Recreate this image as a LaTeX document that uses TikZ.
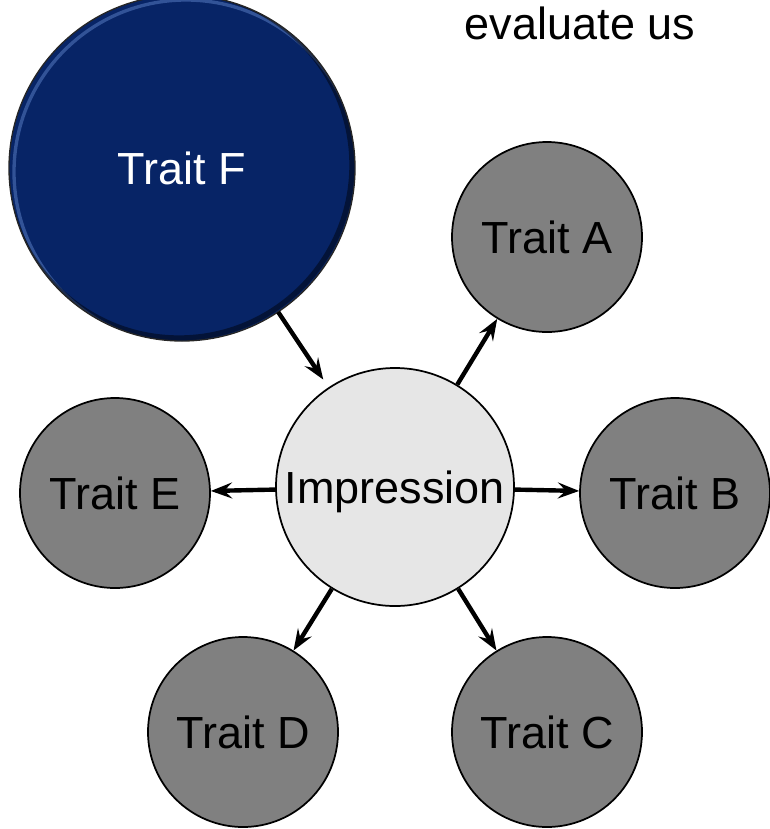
\documentclass[tikz,border=0pt]{standalone}
\usepackage{fontspec}
\setmainfont{Liberation Sans}
\usetikzlibrary{arrows.meta}
\definecolor{navy}{RGB}{7,36,102}
\definecolor{navylight}{RGB}{80,115,185}
\definecolor{traitgray}{RGB}{128,128,128}
\definecolor{impgray}{RGB}{230,230,230}
\begin{document}
\begin{tikzpicture}[x=0.75pt,y=-0.75pt,
  lbl/.style={font=\fontsize{33.75pt}{40pt}\selectfont, text height=24.2pt, text depth=0pt, inner sep=0pt},
  trait/.style={circle, draw=black, line width=1.3pt, fill=traitgray, minimum size=142.5pt, lbl},
  hub/.style={circle, draw=black, line width=1.3pt, fill=impgray, minimum size=178.5pt, lbl},
  key/.style={circle, fill=navy, minimum size=259.5pt, lbl, text=white},
  link/.style={line width=3.3pt, -{Stealth[length=16pt,width=12pt,inset=6pt]}}]
\useasboundingbox (0,0) rectangle (770,829);

% heading
\node[lbl, anchor=base] (head) at (580,39) {evaluate us};

% highlighted trait with bevelled rim
\node[key] (F) at (182,168) {};
\begin{scope}
  \clip (F.center) circle (129.75pt);
  \draw[navylight, line width=2.5pt, opacity=0.6] ([shift={(4,4)}]F.center) circle (129pt);
  \draw[black, line width=4pt, opacity=0.45] ([shift={(-3,-3)}]F.center) circle (129.75pt);
\end{scope}
\draw[black!85, line width=1pt] (F.center) circle (129.75pt);
\node[lbl, text=white] (Ftext) at (F.center) {Trait F};

% central impression and surrounding traits
\node[hub] (imp) at (395,487) {Impression};
\node[trait] (A) at (547,237) {Trait A};
\node[trait] (B) at (675,493) {Trait B};
\node[trait] (C) at (547,732) {Trait C};
\node[trait] (D) at (243,732) {Trait D};
\node[trait] (E) at (115,493) {Trait E};

% connectors
\draw[link, shorten >=7pt] (F) -- (imp);
\draw[link] (imp) -- (A);
\draw[link] (imp) -- (B);
\draw[link] (imp) -- (C);
\draw[link] (imp) -- (D);
\draw[link] (imp) -- (E);
\end{tikzpicture}
\end{document}
